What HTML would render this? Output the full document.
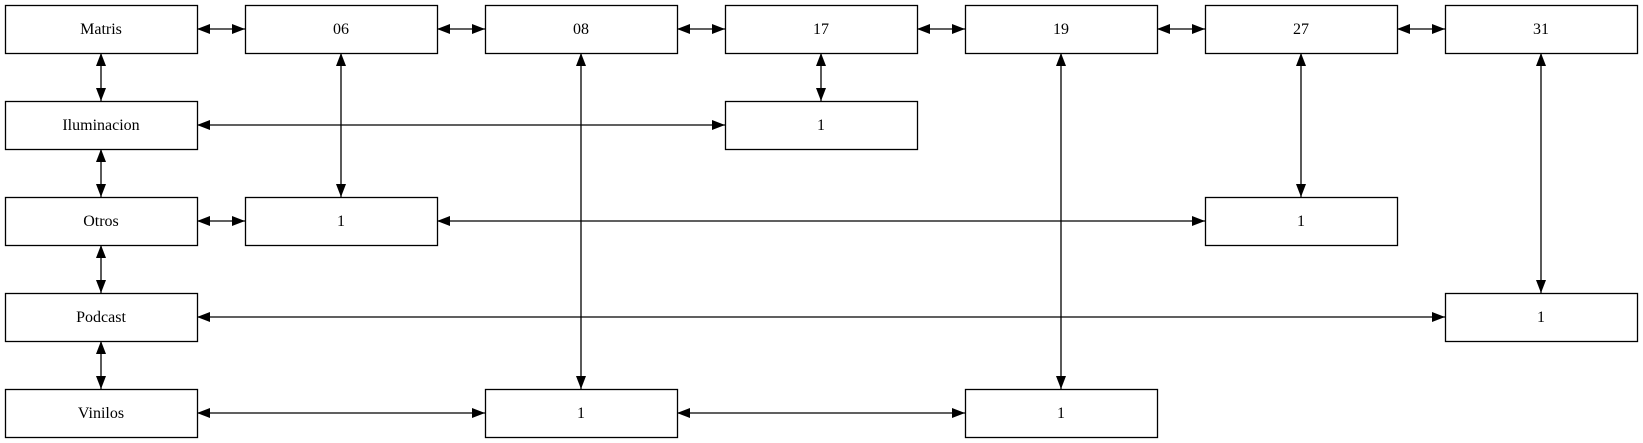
<!DOCTYPE html>
<html><head><meta charset="utf-8"><style>
html,body{margin:0;padding:0;background:#fff;width:1643px;height:443px;overflow:hidden}
svg text{font-family:"Liberation Serif",serif;font-size:16px}
</style></head><body>
<svg id="g" width="1643" height="443" xmlns="http://www.w3.org/2000/svg">
<defs><marker id="ah" viewBox="0 0 13 10" refX="13" refY="5" markerWidth="13" markerHeight="10" markerUnits="userSpaceOnUse" orient="auto-start-reverse"><path d="M0,0 L13,5 L0,10 z" fill="#000"/></marker></defs>
</svg>
<script>
const NS="http://www.w3.org/2000/svg";
const svg=document.getElementById('g');
const colX=[5,245,485,725,965,1205,1445], rowY=[5,101,197,293,389], W=192, H=48;
const nodes=[
 ['Matris',0,0],['06',1,0],['08',2,0],['17',3,0],['19',4,0],['27',5,0],['31',6,0],
 ['Iluminacion',0,1],['1',3,1],
 ['Otros',0,2],['1',1,2],['1',5,2],
 ['Podcast',0,3],['1',6,3],
 ['Vinilos',0,4],['1',2,4],['1',4,4]
];
const edges=[
 [0,0,1,0],[1,0,2,0],[2,0,3,0],[3,0,4,0],[4,0,5,0],[5,0,6,0],
 [0,0,0,1],[0,1,0,2],[0,2,0,3],[0,3,0,4],
 [0,1,3,1],[3,0,3,1],
 [1,0,1,2],[0,2,1,2],[1,2,5,2],[5,0,5,2],
 [6,0,6,3],[0,3,6,3],
 [2,0,2,4],[4,0,4,4],[0,4,2,4],[2,4,4,4]
];
edges.forEach(e=>{
 const l=document.createElementNS(NS,'line');
 let x1,y1,x2,y2;
 if(e[1]===e[3]){const y=rowY[e[1]]+H/2;x1=colX[e[0]]+W;x2=colX[e[2]];y1=y2=y;}
 else{const x=colX[e[0]]+W/2;y1=rowY[e[1]]+H;y2=rowY[e[3]];x1=x2=x;}
 l.setAttribute('x1',x1);l.setAttribute('y1',y1);l.setAttribute('x2',x2);l.setAttribute('y2',y2);
 l.setAttribute('stroke','#000');l.setAttribute('stroke-width','1.3');
 l.setAttribute('marker-start','url(#ah)');l.setAttribute('marker-end','url(#ah)');
 
 
 svg.appendChild(l);
});
nodes.forEach(n=>{
 const g=document.createElementNS(NS,'g');
 
 
 const r=document.createElementNS(NS,'rect');
 r.setAttribute('x',colX[n[1]]+0.5);r.setAttribute('y',rowY[n[2]]+0.5);
 r.setAttribute('width',W);r.setAttribute('height',H);
 r.setAttribute('fill','#fff');r.setAttribute('stroke','#000');r.setAttribute('stroke-width','1.3');
 const t=document.createElementNS(NS,'text');
 t.setAttribute('x',colX[n[1]]+W/2);t.setAttribute('y',rowY[n[2]]+H/2+5);
 t.setAttribute('text-anchor','middle');t.textContent=n[0];
 g.appendChild(r);g.appendChild(t);svg.appendChild(g);
});
</script>
</body></html>
